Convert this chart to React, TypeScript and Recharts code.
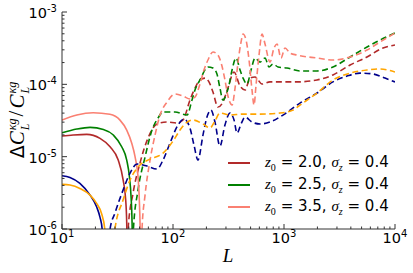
import { LineChart, Line, XAxis, YAxis } from "recharts";

// [L, |ΔC/C|]. Solid = positive part, dashed = negative part.
const redSolid: [number, number][] = [
  [10, 1.93e-5], [12.6, 1.99e-5], [16.7, 2.03e-5], [22.0, 1.79e-5], [27.1, 1.37e-5],
  [32.1, 8.97e-6], [35.6, 4.7e-6], [37.5, 2.5e-6], [38.3, 1.2e-6], [38.8, 4e-7],
];
const redDashed: [number, number][] = [
  [38.9, 3e-7], [39.4, 1.0e-6], [43.7, 3.14e-6], [50.4, 8.15e-6], [59.6, 1.81e-5],
  [71.8, 2.83e-5], [88.3, 3.01e-5], [108.7, 2.92e-5], [123, 3.21e-5], [142.2, 6.07e-5],
  [157.8, 8.89e-5], [175, 1.15e-4], [194.1, 1.22e-4], [210.9, 1.08e-4], [229.1, 7.83e-5],
  [254.1, 4.85e-5], [281.8, 5.69e-5], [312.6, 8.89e-5], [354.8, 1.48e-4], [401.8, 9.47e-5],
  [445.7, 8.34e-5], [494.3, 1.22e-4], [548.3, 1.26e-4], [634, 1.01e-4], [748, 1.08e-4],
  [920, 1.08e-4], [1309, 1.08e-4], [1983, 1.15e-4], [2761, 1.35e-4], [3936, 1.85e-4],
  [5598, 2.39e-4], [7798, 3.18e-4], [10000, 3.5e-4],
];

const greenSolid: [number, number][] = [
  [10, 2.14e-5], [13.6, 2.41e-5], [17.9, 2.54e-5], [23.6, 2.38e-5], [29, 1.99e-5],
  [34.5, 1.37e-5], [38.3, 8.97e-6], [40.5, 5.27e-6], [41.9, 2.79e-6], [42.8, 1.2e-6], [43.3, 4e-7],
];
const greenDashed: [number, number][] = [
  [43.4, 3e-7], [44.0, 1.0e-6], [48.4, 3.45e-6], [56, 9.87e-6], [64.7, 2.33e-5],
  [73.3, 3.42e-5], [81.3, 4.14e-5], [104.3, 4.14e-5], [133.7, 3.76e-5], [148.3, 6.07e-5],
  [157.8, 8.34e-5], [175, 1.15e-4], [206.5, 1.74e-4], [229.1, 1.68e-4], [248.9, 1.39e-4],
  [264.8, 8.89e-5], [281.8, 6.07e-5], [299.9, 7.11e-5], [319.6, 9.78e-5], [340.4, 1.58e-4],
  [369.8, 2.31e-4], [401.8, 1.58e-4], [427.6, 1.22e-4], [464.5, 1.01e-4], [504.7, 1.58e-4],
  [548.3, 2.31e-4], [608.1, 2.03e-4], [674.5, 2.31e-4], [732.8, 1.74e-4], [796.2, 1.91e-4],
  [883.1, 1.74e-4], [1064, 1.68e-4], [1393, 1.53e-4], [1983, 1.53e-4], [2761, 1.74e-4],
  [3936, 2.39e-4], [5598, 3.28e-4], [7328, 4.1e-4], [10000, 5.12e-4],
];

const salmonSolid: [number, number][] = [
  [10, 3.2e-5], [13.6, 3.76e-5], [19.1, 4.05e-5], [27, 3.85e-5], [33.3, 3.2e-5],
  [38.3, 2.33e-5], [42.5, 1.53e-5], [45.5, 1.0e-5], [48.7, 4.7e-6], [50, 2.0e-6],
  [50.6, 1.0e-6], [51, 4e-7],
];
const salmonDashed: [number, number][] = [
  [51.2, 3e-7], [52.6, 1.0e-6], [56, 2.94e-6], [62.1, 8.97e-6], [68.9, 1.99e-5],
  [76.4, 3.76e-5], [88.3, 5.69e-5], [104.3, 7.34e-5], [123, 6.89e-5], [142.2, 6.26e-5],
  [157.8, 6.67e-5], [175, 1.01e-4], [190.1, 1.58e-4], [206.5, 2.17e-4], [229.1, 2.8e-4],
  [254.1, 2.54e-4], [276.1, 1.79e-4], [293.8, 1.15e-4], [312.6, 6.89e-5], [340.4, 5.17e-5],
  [362.2, 8.89e-5], [385.5, 2.03e-4], [410.2, 3.85e-4], [427.6, 4.96e-4], [455, 4.1e-4],
  [484.2, 2.17e-4], [515.2, 8.34e-5], [537, 5.17e-5], [559.8, 9.78e-5], [595.7, 2.54e-4],
  [634, 4.96e-4], [674.5, 3.61e-4], [748.2, 2.03e-4], [812.8, 3.18e-4], [865, 3.61e-4],
  [939.7, 2.31e-4], [1021, 3.18e-4], [1132, 2.71e-4], [1309, 2.54e-4], [1983, 2.31e-4],
  [2761, 2.17e-4], [3936, 2.39e-4], [5598, 2.98e-4], [7328, 3.85e-4], [10000, 5.12e-4],
];

const blueSolid: [number, number][] = [
  [10, 5.44e-6], [11.8, 5.17e-6], [14.5, 4.27e-6], [17.9, 2.94e-6], [20.5, 2.03e-6],
  [22.0, 1.45e-6], [23.0, 1.0e-6], [23.5, 4e-7],
];
const blueDashed: [number, number][] = [
  [25.5, 3e-7], [27.1, 1.0e-6], [30, 1.66e-6], [35.5, 3.45e-6], [41, 5.93e-6],
  [47.4, 7.91e-6], [58.3, 7.42e-6], [71.8, 6.74e-6], [81.3, 8.97e-6], [94, 1.54e-5],
  [110.9, 2.74e-5], [125.6, 3.31e-5], [142.2, 2.49e-5], [154.5, 1.45e-5], [167.9, 8.97e-6],
  [186.2, 1.99e-5], [202.3, 3.53e-5], [219.8, 4.41e-5], [238.8, 3.01e-5], [264.8, 1.4e-5],
  [293.8, 2.74e-5], [326.6, 4.01e-5], [354.8, 3.21e-5], [377.6, 2.12e-5], [410.2, 2.83e-5],
  [445.7, 3.53e-5], [515.2, 3.01e-5], [608.1, 2.83e-5], [748.2, 3.01e-5], [979.5, 3.76e-5],
  [1393, 5.51e-5], [1983, 7.58e-5], [2761, 1.08e-4], [3698, 1.3e-4], [4842, 1.43e-4],
  [6339, 1.39e-4], [8128, 1.22e-4], [10000, 1.08e-4],
];

const orangeSolid: [number, number][] = [
  [10, 4.14e-6], [11.8, 4.05e-6], [14.5, 3.64e-6], [17.9, 2.94e-6], [20.5, 2.26e-6],
  [22.7, 1.64e-6], [24.3, 1.0e-6], [24.8, 4e-7],
];
const orangeDashed: [number, number][] = [
  [28.8, 3e-7], [30.0, 1.0e-6], [35.5, 2.51e-6], [41, 4.74e-6], [50.4, 7.66e-6],
  [62.1, 9.26e-6], [81.3, 1.12e-5], [100, 1.64e-5], [115.6, 2.33e-5], [130.9, 2.92e-5],
  [151.4, 3.21e-5], [186.2, 2.83e-5], [215.3, 2.49e-5], [238.8, 3.11e-5], [264.8, 4.01e-5],
  [326.6, 3.76e-5], [427.6, 3.88e-5], [608.1, 3.88e-5], [920.4, 4.01e-5], [1205, 4.41e-5],
  [1393, 5.17e-5], [1983, 7.58e-5], [2761, 1.15e-4], [3936, 1.43e-4], [5598, 1.58e-4],
  [7328, 1.63e-4], [10000, 1.48e-4],
];

const X_DECADES = [10, 100, 1000, 10000];
const Y_DECADES = [1e-6, 1e-5, 1e-4, 1e-3];
const MINOR_STEPS = [2, 3, 4, 5, 6, 7, 8, 9];

const LEGEND = [
  { z0: "2.0", color: "#b22a2a" },
  { z0: "2.5", color: "#008000" },
  { z0: "3.5", color: "#fa8072" },
];

const SERIES = [
  { id: "red", color: "#b22a2a", solid: redSolid, dashed: redDashed },
  { id: "green", color: "#008000", solid: greenSolid, dashed: greenDashed },
  { id: "salmon", color: "#fa8072", solid: salmonSolid, dashed: salmonDashed },
  { id: "blue", color: "#00008b", solid: blueSolid, dashed: blueDashed },
  { id: "orange", color: "#ffa500", solid: orangeSolid, dashed: orangeDashed },
];

const FONT = "'DejaVu Sans', sans-serif";
const MATH = "'Liberation Serif', 'DejaVu Serif', serif";
const FRAME = "#333";

const withMinors = (decades: number[]) =>
  decades.flatMap((d, i) =>
    i === decades.length - 1 ? [d] : [d, ...MINOR_STEPS.map((m) => +(d * m).toPrecision(3))]
  );

const isMajor = (v: number) => Math.abs(Math.log10(v) - Math.round(Math.log10(v))) < 1e-6;

const toRows = (pts: [number, number][]) => pts.map(([L, v]) => ({ L, v }));

function Pow({ v, x, y, anchor }: { v: number; x: number; y: number; anchor: "middle" | "end" }) {
  return (
    <text x={x} y={y} textAnchor={anchor} fontSize={14.5} fontFamily={FONT} fill="#000">
      10
      <tspan dy={-6} fontSize={10}>
        {Math.round(Math.log10(v))}
      </tspan>
    </text>
  );
}

function BottomTick({ x, y, payload }: any) {
  const major = isMajor(payload.value);
  return (
    <g>
      <line x1={x} x2={x} y1={y} y2={y - (major ? 5 : 2.5)} stroke={FRAME} />
      {major && <Pow v={payload.value} x={x} y={y + 14} anchor="middle" />}
    </g>
  );
}

function TopTick({ x, y, payload }: any) {
  const major = isMajor(payload.value);
  return <line x1={x} x2={x} y1={y} y2={y + (major ? 5 : 2.5)} stroke={FRAME} />;
}

function LeftTick({ x, y, payload }: any) {
  const major = isMajor(payload.value);
  return (
    <g>
      <line x1={x} x2={x + (major ? 5 : 2.5)} y1={y} y2={y} stroke={FRAME} />
      {major && <Pow v={payload.value} x={x - 5} y={y + 6} anchor="end" />}
    </g>
  );
}

function RightTick({ x, y, payload }: any) {
  const major = isMajor(payload.value);
  return <line x1={x} x2={x - (major ? 5 : 2.5)} y1={y} y2={y} stroke={FRAME} />;
}

function Scripts({ sup, sub, size }: { sup: React.ReactNode; sub: React.ReactNode; size: number }) {
  return (
    <span
      style={{
        display: "inline-flex",
        flexDirection: "column",
        verticalAlign: "middle",
        fontSize: size,
        lineHeight: 1.05,
        marginLeft: 1,
      }}
    >
      <span>{sup}</span>
      <span>{sub}</span>
    </span>
  );
}

function LegendBox() {
  return (
    <div style={{ position: "absolute", left: 228, top: 152, fontFamily: FONT, fontSize: 15 }}>
      {LEGEND.map((it) => (
        <div key={it.z0} style={{ display: "flex", alignItems: "center", height: 22 }}>
          <span style={{ width: 22, height: 1.5, background: it.color, marginRight: 15 }} />
          <span style={{ whiteSpace: "nowrap" }}>
            <i style={{ fontFamily: MATH }}>z</i>
            <sub style={{ fontSize: 10, fontFamily: MATH }}>0</sub>
            {" "}={" "}{it.z0},{" "}
            <i style={{ fontFamily: MATH }}>σ</i>
            <sub style={{ fontSize: 10, fontFamily: MATH, fontStyle: "italic" }}>z</sub>
            {" "}={" "}0.4
          </span>
        </div>
      ))}
    </div>
  );
}

export default function App() {
  const xTicks = withMinors(X_DECADES);
  const yTicks = withMinors(Y_DECADES);

  return (
    <div style={{ position: "absolute", left: 0, top: 0, width: 413, height: 273, background: "#fff" }}>
      <LineChart width={413} height={273} margin={{ top: 12, right: 18, bottom: 0, left: 0 }}>
        <XAxis
          xAxisId="b"
          dataKey="L"
          type="number"
          scale="log"
          domain={[10, 10000]}
          allowDataOverflow
          ticks={xTicks}
          interval={0}
          height={44}
          tickSize={0}
          tickMargin={0}
          tick={BottomTick}
          axisLine={{ stroke: FRAME }}
        />
        <XAxis
          xAxisId="t"
          orientation="top"
          dataKey="L"
          type="number"
          scale="log"
          domain={[10, 10000]}
          allowDataOverflow
          ticks={xTicks}
          interval={0}
          height={0}
          tickSize={0}
          tickMargin={0}
          mirror
          tick={TopTick}
          axisLine={{ stroke: FRAME }}
        />
        <YAxis
          yAxisId="l"
          type="number"
          scale="log"
          domain={[1e-6, 1e-3]}
          allowDataOverflow
          ticks={yTicks}
          interval={0}
          width={62}
          tickSize={0}
          tickMargin={0}
          tick={LeftTick}
          axisLine={{ stroke: FRAME }}
        />
        <YAxis
          yAxisId="r"
          orientation="right"
          type="number"
          scale="log"
          domain={[1e-6, 1e-3]}
          allowDataOverflow
          ticks={yTicks}
          interval={0}
          width={0}
          tickSize={0}
          tickMargin={0}
          mirror
          tick={RightTick}
          axisLine={{ stroke: FRAME }}
        />
        {SERIES.flatMap((s) => [
          <Line
            key={s.id + "-pos"}
            xAxisId="b"
            yAxisId="l"
            data={toRows(s.solid)}
            dataKey="v"
            type="monotone"
            stroke={s.color}
            strokeWidth={1.6}
            dot={false}
            activeDot={false}
            isAnimationActive={false}
          />,
          <Line
            key={s.id + "-neg"}
            xAxisId="b"
            yAxisId="l"
            data={toRows(s.dashed)}
            dataKey="v"
            type="monotone"
            stroke={s.color}
            strokeWidth={1.6}
            strokeDasharray="6 3.5"
            dot={false}
            activeDot={false}
            isAnimationActive={false}
          />,
        ])}
      </LineChart>

      <div
        style={{
          position: "absolute",
          left: 19,
          top: 120,
          transform: "translate(-50%, -50%) rotate(-90deg)",
          whiteSpace: "nowrap",
          fontFamily: MATH,
          fontSize: 21,
          lineHeight: 1,
        }}
      >
        <span style={{ fontFamily: "'DejaVu Sans', sans-serif", fontSize: 19 }}>Δ</span>
        <i>C</i>
        <Scripts sup={<i>κg</i>} sub={<i>L</i>} size={12} />
        <span style={{ margin: "0 2px" }}>/</span>
        <i>C</i>
        <Scripts sup={<i>κg</i>} sub={<i>L</i>} size={12} />
      </div>

      <div
        style={{
          position: "absolute",
          left: 228,
          top: 246,
          transform: "translateX(-50%)",
          fontFamily: MATH,
          fontStyle: "italic",
          fontSize: 19,
          lineHeight: 1,
        }}
      >
        L
      </div>

      <LegendBox />
    </div>
  );
}
